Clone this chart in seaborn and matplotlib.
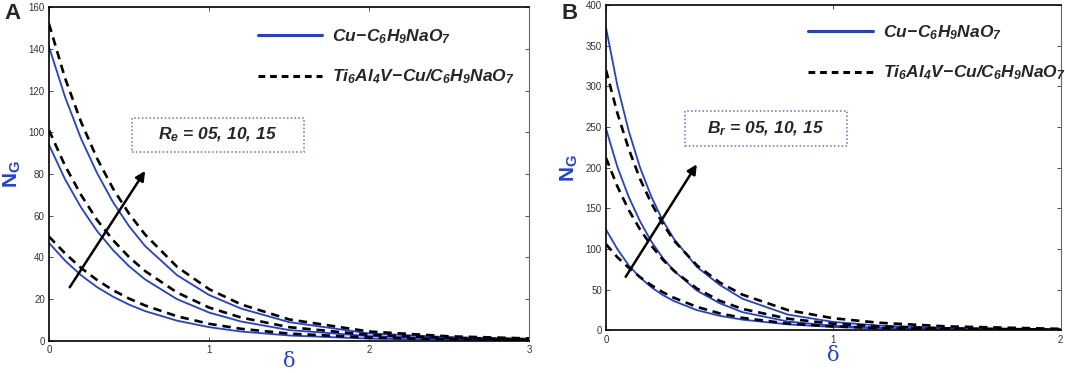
import matplotlib
matplotlib.use("Agg")
import matplotlib.pyplot as plt
import seaborn as sns
import pandas as pd
from matplotlib.lines import Line2D
from matplotlib.patches import Rectangle

# ---- data ----
delta_a = [0, 0.1, 0.2, 0.3, 0.4, 0.5, 0.6, 0.8, 1.0, 1.2, 1.5, 2.0, 2.5, 3.0]
cu_a_15 = [141, 117, 97, 80.5, 66.5, 55, 45.5, 31.5, 22, 15.5, 9, 3.6, 1.8, 1.0]
cu_a_10 = [94, 77.5, 64, 52.7, 43.5, 35.8, 29.5, 20, 13.6, 9.3, 5.2, 2.3, 1.2, 0.7]
cu_a_05 = [47, 38.5, 31.5, 25.8, 21.2, 17.4, 14.3, 9.7, 6.6, 4.5, 2.6, 1.1, 0.6, 0.3]
ti_a_15 = [152, 126, 105, 87.5, 73, 61, 51, 35.5, 24.8, 17.5, 10.3, 4.5, 2.2, 1.2]
ti_a_10 = [101, 84, 70, 58, 48.3, 40.2, 33.5, 23.2, 16, 11.2, 6.6, 2.9, 1.4, 0.8]
ti_a_05 = [50, 42, 35, 29.2, 24.3, 20.3, 17, 11.8, 8.2, 5.8, 3.5, 1.6, 0.8, 0.5]

delta_b = [0, 0.05, 0.1, 0.15, 0.2, 0.25, 0.3, 0.4, 0.5, 0.6, 0.8, 1.0, 1.2, 1.5, 2.0]
cu_b_15 = [372, 301, 245, 200, 164, 135, 112, 78, 56, 39, 19.5, 10.5, 6, 2.8, 0.9]
cu_b_10 = [248, 201, 164, 134, 109, 89, 73, 49, 33.5, 22.5, 11, 5.7, 3.2, 1.4, 0.5]
cu_b_05 = [124, 100, 80, 65, 53, 43.5, 36, 25, 18, 13.3, 7.5, 4.3, 2.6, 1.3, 0.5]
ti_b_15 = [320, 267, 223, 186, 156, 131, 110, 80, 59, 44, 25, 15, 9.5, 5, 2]
ti_b_10 = [212, 177, 148, 124, 104, 87, 73, 51.5, 36.5, 26.5, 14.5, 8.3, 5, 2.6, 1]
ti_b_05 = [106, 90, 77, 65.5, 55.5, 47, 40, 29, 21, 15.5, 8.5, 5, 3, 1.6, 0.6]

label_cu = r"$Cu\!-\!C_6H_9NaO_7$"
label_ti = r"$Ti_6Al_4V\!-\!Cu/C_6H_9NaO_7$"

BLUE = "#1f3fe6"

sns.set_style("ticks")
plt.rcParams["font.family"] = ["Liberation Sans", "DejaVu Sans"]
plt.rcParams["mathtext.fontset"] = "custom"
plt.rcParams["mathtext.it"] = "Liberation Sans:italic:bold"
plt.rcParams["mathtext.rm"] = "Liberation Sans:italic:bold"
plt.rcParams["mathtext.bf"] = "Liberation Sans:bold"


def long_frame(delta, curves):
    rows = []
    for fluid, level, vals in curves:
        for d, v in zip(delta, vals):
            rows.append({"delta": d, "NG": v, "fluid": fluid, "level": level})
    return pd.DataFrame(rows)


def draw_panel(ax, df, xmax, ymax, yticks, arrow, box, param, leg_anchor, xpad):
    for (fluid, level), sub in df.groupby(["fluid", "level"]):
        if fluid == "cu":
            sns.lineplot(data=sub, x="delta", y="NG", ax=ax, color=BLUE, lw=1.3,
                         estimator=None, sort=False)
        else:
            sns.lineplot(data=sub, x="delta", y="NG", ax=ax, color="black", lw=1.9,
                         estimator=None, sort=False, dashes=False)
            ax.lines[-1].set_dashes((3.2, 2.2))
    ax.set_xlim(0, xmax)
    ax.set_ylim(0, ymax)
    ax.set_xticks(range(0, xmax + 1))
    ax.set_yticks(yticks)
    ax.tick_params(direction="in", length=3, width=0.6, labelsize=7, colors="#333333",
                   top=True, right=True, pad=3)
    for s in ["left", "bottom", "top"]:
        ax.spines[s].set_linewidth(1.2)
        ax.spines[s].set_color("black")
    ax.spines["right"].set_color("#666666")
    ax.spines["right"].set_visible(True)
    ax.spines["top"].set_visible(True)
    ax.set_xlabel("δ", color=BLUE, fontsize=15, family="DejaVu Serif", labelpad=xpad)
    ax.set_ylabel(r"$\mathbf{N_G}$", color=BLUE, fontsize=15, labelpad=4)

    (x0, y0), (x1, y1) = arrow
    ax.annotate("", xy=(x1, y1), xytext=(x0, y0),
                arrowprops=dict(arrowstyle="-|>", color="black", lw=1.8, mutation_scale=14))
    (bx0, by0), (bx1, by1) = box
    ax.add_patch(Rectangle((bx0, by0), bx1 - bx0, by1 - by0, fill=False, ec="#5a6fe8",
                           lw=1.1, ls=(0, (1, 1.5))))
    ax.text((bx0 + bx1) / 2, (by0 + by1) / 2, param, ha="center", va="center",
            fontsize=12.5)

    handles = [Line2D([], [], color=BLUE, lw=2.2),
               Line2D([], [], color="black", lw=2.2, dashes=(2.2, 1.6))]
    ax.legend(handles, [label_cu, label_ti], loc="upper left", bbox_to_anchor=leg_anchor,
              frameon=False, fontsize=12.5, handlelength=3.7, handletextpad=0.6,
              labelspacing=1.25, borderaxespad=0)


df_a = long_frame(delta_a, [("cu", 15, cu_a_15), ("cu", 10, cu_a_10), ("cu", 5, cu_a_05),
                            ("ti", 15, ti_a_15), ("ti", 10, ti_a_10), ("ti", 5, ti_a_05)])
df_b = long_frame(delta_b, [("cu", 15, cu_b_15), ("cu", 10, cu_b_10), ("cu", 5, cu_b_05),
                            ("ti", 15, ti_b_15), ("ti", 10, ti_b_10), ("ti", 5, ti_b_05)])

fig = plt.figure(figsize=(10.65, 3.73), dpi=100)
ax_a = fig.add_axes([0.046, 0.086, 0.451, 0.895])
ax_b = fig.add_axes([0.569, 0.114, 0.427, 0.873])

draw_panel(ax_a, df_a, 3, 160, range(0, 161, 20),
           ((0.12, 24.6), (0.61, 82.6)), ((0.52, 90.5), (1.59, 107)),
           r"$R_e$ = 05, 10, 15", (0.42, 0.96), -2)
draw_panel(ax_b, df_b, 2, 400, range(0, 401, 50),
           ((0.08, 63), (0.406, 207)), ((0.349, 226), (1.058, 269)),
           r"$B_r$ = 05, 10, 15", (0.43, 0.965), 1)

for t in ax_a.texts + ax_b.texts:
    t.set_fontweight("bold")
    t.set_fontstyle("italic")

fig.text(0.004, 0.965, "A", fontsize=16, fontweight="bold", va="center")
fig.text(0.527, 0.965, "B", fontsize=16, fontweight="bold", va="center")

fig.savefig("out.png", dpi=100, facecolor="white")
